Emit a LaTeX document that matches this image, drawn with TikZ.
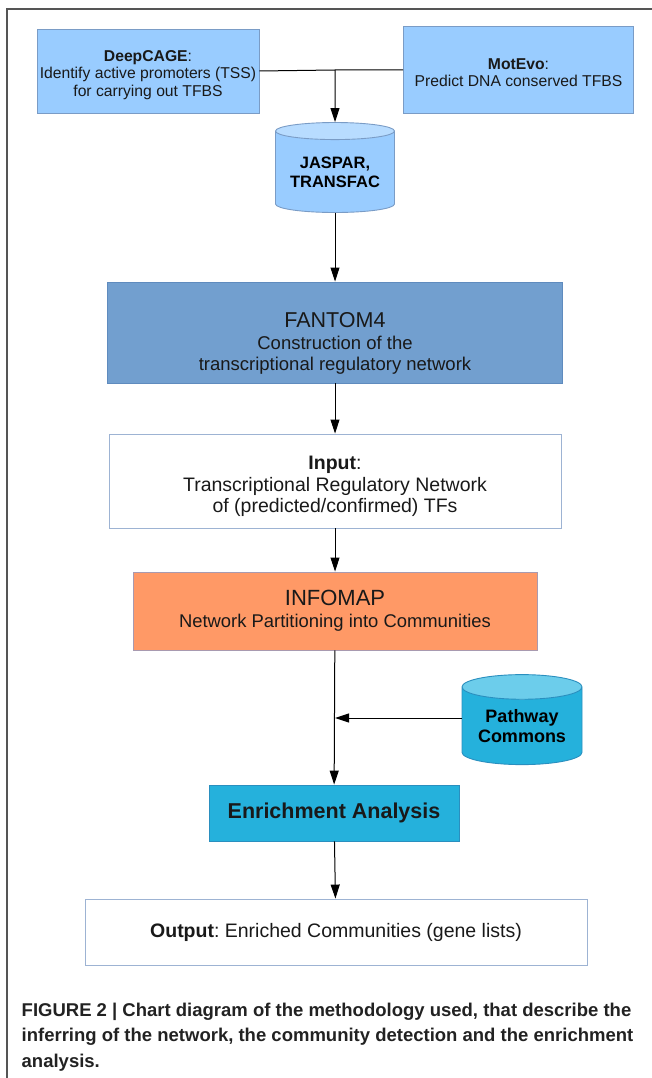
\documentclass[tikz,border=0pt]{standalone}
\usepackage{fontspec}
\setmainfont{Liberation Sans}
\usetikzlibrary{arrows.meta,shapes.geometric}
\frenchspacing

\definecolor{boxblue}{HTML}{99CCFF}
\definecolor{boxblueline}{HTML}{7A9CC6}
\definecolor{capblue}{HTML}{B8DCFF}
\definecolor{fantomblue}{HTML}{729FCF}
\definecolor{fantomline}{HTML}{5F8BBE}
\definecolor{plainline}{HTML}{9DB3D3}
\definecolor{infoorange}{HTML}{FF9966}
\definecolor{infoline}{HTML}{A89AB0}
\definecolor{pathcyan}{HTML}{25B1DC}
\definecolor{pathcap}{HTML}{6CCDEB}
\definecolor{cyanline}{HTML}{2A8FBF}
\definecolor{framegray}{HTML}{555555}
\definecolor{captext}{HTML}{222222}

\newcommand{\fs}[2]{\fontsize{#1}{#2}\selectfont}
\newcommand{\lift}[1]{\rule{0pt}{#1}}

\begin{document}
\begin{tikzpicture}[x=1pt,y=-1pt,
  box/.style={rectangle,draw,line width=0.9pt,inner sep=0pt,align=center,text=black!90},
  db/.style={cylinder,shape border rotate=90,draw,line width=0.9pt,inner sep=0pt,
    align=center,cylinder uses custom fill,minimum width=119pt,minimum height=90pt},
  arr/.style={-{Triangle[length=14pt,width=9pt]},line width=1pt}]
  \useasboundingbox (0,0) rectangle (652,1078);
  % frame
  \draw[framegray,line width=1.5pt] (652,9) -- (7,9) -- (7,1078);

  % sources
  \node[box,draw=boxblueline,fill=boxblue,minimum width=222pt,minimum height=84pt,
    font=\fs{15.7}{17.5}] (deep) at (148,71)
    {\lift{19pt}\textbf{DeepCAGE}:\\Identify active promoters (TSS)\\for carrying out TFBS};
  \node[box,draw=boxblueline,fill=boxblue,minimum width=230pt,minimum height=87pt,
    font=\fs{15.7}{17}] (motevo) at (518.5,70)
    {\lift{17pt}\textbf{MotEvo}:\\Predict DNA conserved TFBS};
  \coordinate (join) at (335,70);
  \draw[line width=1pt] (deep.east) -- (join) -- (motevo.west);

  \node[db,draw=boxblueline,cylinder end fill=capblue,cylinder body fill=boxblue,
    aspect=0.19,font=\bfseries\fs{16.5}{19}] (jaspar) at (335,172)
    {JASPAR,\\TRANSFAC};
  \draw[arr] (join) -- (jaspar);

  % main chain
  \node[box,draw=fantomline,fill=fantomblue,minimum width=455pt,minimum height=101pt,
    font=\fs{18.5}{21}] (fantom) at (335,332.5)
    {{\lift{37pt}\fs{21.5}{23}FANTOM4}\\[1pt]Construction of the\\transcriptional regulatory network};
  \node[box,draw=plainline,fill=white,minimum width=452pt,minimum height=94pt,
    font=\fs{19.5}{21.5}] (input) at (335,481)
    {\lift{25pt}\textbf{Input}:\\Transcriptional Regulatory Network\\of (predicted/confirmed) TFs};
  \node[box,draw=infoline,fill=infoorange,minimum width=404pt,minimum height=78pt,
    font=\fs{18.4}{22}] (infomap) at (335,611)
    {{\fs{22}{24}INFOMAP}\\Network Partitioning into Communities};
  \node[db,draw=cyanline,cylinder end fill=pathcap,cylinder body fill=pathcyan,
    minimum width=120pt,aspect=0.28,font=\bfseries\fs{18}{19.5}] (pathway) at (522,726)
    {Pathway\\Commons};
  \node[box,draw=cyanline,fill=pathcyan,minimum width=250pt,minimum height=56pt,
    font=\bfseries\fs{21.5}{24}] (enrich) at (334,813) {Enrichment Analysis};
  \node[box,draw=plainline,fill=white,minimum width=502pt,minimum height=66pt,
    font=\fs{19.5}{22}] (output) at (336,932)
    {\textbf{Output}: Enriched Communities (gene lists)};

  \foreach \a/\b in {jaspar/fantom,fantom/input,input/infomap,infomap/enrich,enrich/output}
    \draw[arr] (\a) -- (\b);
  \coordinate (merge) at (335,718);
  \draw[arr] (merge -| pathway.west) -- (merge);

  % caption
  \node[anchor=base west,inner sep=0pt,align=left,text=captext,
    font=\bfseries\fs{18.5}{25.5}] (caption) at (21.5,1067)
    {FIGURE 2 | Chart diagram of the methodology used, that describe the\\
     inferring of the network, the community detection and the enrichment\\
     analysis.};
\end{tikzpicture}
\end{document}
